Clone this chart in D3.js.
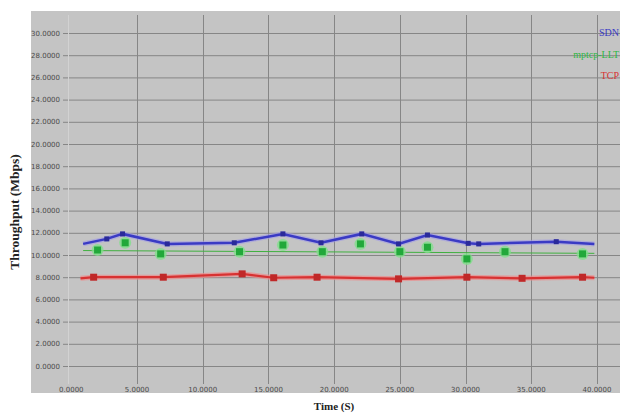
<!DOCTYPE html>
<html lang="en">

<head>
    <meta charset="UTF-8">
    <title>throughput</title>
    <script src="https://d3js.org/d3.v7.js"></script>
    <style>
        body { margin: 0; background: #fff; }
    </style>
</head>

<body>
    <div class="canvas"></div>

    <script>
        // 資料
        let sdnTime = [0.9, 2.7, 3.9, 7.3, 12.4, 16.1, 19.0, 22.1, 24.9, 27.1, 30.2, 31.0, 36.9, 39.8];
        let sdnValue = [11.0, 11.45, 11.9, 11.0, 11.1, 11.9, 11.1, 11.9, 11.0, 11.8, 11.05, 11.0, 11.2, 11.0];

        let mptcpTime = [2.0, 4.1, 6.8, 12.8, 16.1, 19.1, 22.0, 25.0, 27.1, 30.1, 33.0, 38.9];
        let mptcpValue = [10.45, 11.1, 10.1, 10.3, 10.9, 10.3, 11.0, 10.3, 10.7, 9.65, 10.3, 10.1];
        let mptcpLineTime = [0.9, 39.8];
        let mptcpLineValue = [10.4, 10.15];

        let tcpTime = [0.7, 1.7, 7.0, 13.0, 15.4, 18.7, 24.9, 30.1, 34.3, 38.9, 39.8];
        let tcpValue = [7.9, 8.0, 8.0, 8.3, 7.95, 8.0, 7.85, 8.0, 7.9, 8.0, 7.95];

        let yTicks = d3.range(0, 31, 2);
        let xTicks = d3.range(0, 41, 5);
        let legendNames = ["SDN", "mptcp-LLT", "TCP"];
        let legendColors = ["#3a3ac4", "#2fb844", "#d83232"];

        // 畫布
        let W = 620, H = 414;
        let svg = d3.select(".canvas").append("svg")
            .attr("width", W)
            .attr("height", H)
            .style("font-family", "'Liberation Serif', serif");

        svg.append("rect")
            .attr("x", 31).attr("y", 11)
            .attr("width", W - 31).attr("height", 382)
            .attr("fill", "#c4c4c4");

        // 比例尺
        let x = d3.scaleLinear().domain([0, 40]).range([71.3, 597]);
        let y = d3.scaleLinear().domain([0, 30]).range([366, 33]);

        // 格線
        let grid = svg.append("g").attr("class", "grid");
        grid.selectAll(".hline").data(yTicks).enter().append("line")
            .attr("x1", 63).attr("x2", W)
            .attr("y1", d => y(d) + 0.5).attr("y2", d => y(d) + 0.5)
            .attr("stroke", "#868686").attr("stroke-width", 1);
        grid.selectAll(".vline").data(xTicks.slice(1)).enter().append("line")
            .attr("x1", d => Math.round(x(d)) + 0.5).attr("x2", d => Math.round(x(d)) + 0.5)
            .attr("y1", 15).attr("y2", 384)
            .attr("stroke", "#868686").attr("stroke-width", 1);
        grid.append("line")
            .attr("x1", Math.round(x(0)) - 2.5).attr("x2", Math.round(x(0)) - 2.5)
            .attr("y1", 15).attr("y2", 384)
            .attr("stroke", "#d2d2d2").attr("stroke-width", 1);

        // 刻度文字
        svg.selectAll(".ylab").data(yTicks).enter().append("text")
            .attr("x", 60).attr("y", d => y(d) + 2.5)
            .attr("text-anchor", "end")
            .attr("font-size", "7px").attr("fill", "#4a4a4a")
            .style("font-family", "'DejaVu Sans', sans-serif")
            .text(d => d.toFixed(4));
        svg.selectAll(".xlab").data(xTicks).enter().append("text")
            .attr("x", d => x(d)).attr("y", 392)
            .attr("text-anchor", "middle")
            .attr("font-size", "7px").attr("fill", "#4a4a4a")
            .style("font-family", "'DejaVu Sans', sans-serif")
            .text(d => d.toFixed(4));

        // 軸標題
        svg.append("text")
            .attr("transform", "translate(19,212) rotate(-90)")
            .attr("text-anchor", "middle")
            .attr("font-size", "13.5px").attr("font-weight", "bold").attr("fill", "#222")
            .text("Throughput (Mbps)");
        svg.append("text")
            .attr("x", 334).attr("y", 410)
            .attr("text-anchor", "middle")
            .attr("font-size", "11px").attr("font-weight", "bold").attr("fill", "#222")
            .text("Time (S)");

        let line = d3.line().x(d => x(d[0])).y(d => y(d[1]));

        // TCP
        let tcp = d3.zip(tcpTime, tcpValue);
        svg.append("path").datum(tcp).attr("d", line)
            .attr("fill", "none").attr("stroke", "#ee8a8a").attr("stroke-width", 5).attr("opacity", 0.7);
        svg.append("path").datum(tcp).attr("d", line)
            .attr("fill", "none").attr("stroke", "#d83232").attr("stroke-width", 2.2);
        svg.selectAll(".tcpm").data(tcp.slice(1, -1)).enter().append("rect")
            .attr("x", d => x(d[0]) - 3.5).attr("y", d => y(d[1]) - 3.5)
            .attr("width", 7).attr("height", 7)
            .attr("fill", "#c02828");

        // mptcp
        let mpLine = d3.zip(mptcpLineTime, mptcpLineValue);
        svg.append("path").datum(mpLine).attr("d", line)
            .attr("fill", "none").attr("stroke", "#40b040").attr("stroke-width", 1);
        let mp = d3.zip(mptcpTime, mptcpValue);
        svg.selectAll(".mpg").data(mp).enter().append("circle")
            .attr("cx", d => x(d[0])).attr("cy", d => y(d[1])).attr("r", 6)
            .attr("fill", "#7fe08a").attr("opacity", 0.8);
        svg.selectAll(".mpm").data(mp).enter().append("rect")
            .attr("x", d => x(d[0]) - 3.5).attr("y", d => y(d[1]) - 3.5)
            .attr("width", 7).attr("height", 7)
            .attr("fill", "#22a83a");

        // SDN
        let sdn = d3.zip(sdnTime, sdnValue);
        svg.append("path").datum(sdn).attr("d", line)
            .attr("fill", "none").attr("stroke", "#a09ae8").attr("stroke-width", 5).attr("opacity", 0.6);
        svg.append("path").datum(sdn).attr("d", line)
            .attr("fill", "none").attr("stroke", "#3a3ac4").attr("stroke-width", 2.5);
        svg.selectAll(".sdnm").data(sdn.slice(1, -1)).enter().append("rect")
            .attr("x", d => x(d[0]) - 2.5).attr("y", d => y(d[1]) - 2.5)
            .attr("width", 5).attr("height", 5)
            .attr("fill", "#2a2a9a");

        // 圖例
        svg.selectAll(".leg").data(legendNames).enter().append("text")
            .attr("x", 619).attr("y", (d, i) => 36 + i * 21.5)
            .attr("text-anchor", "end")
            .attr("font-size", "10px")
            .attr("fill", (d, i) => legendColors[i])
            .text(d => d);
    </script>
</body>

</html>
